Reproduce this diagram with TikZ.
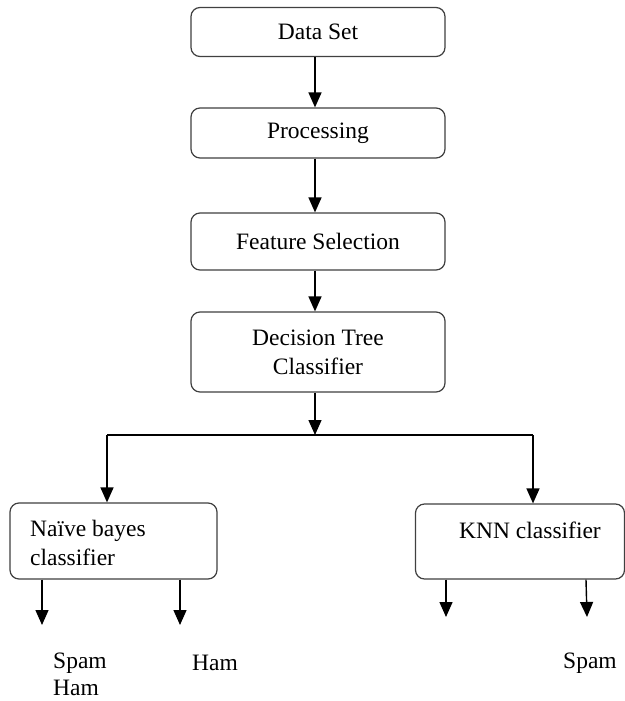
\documentclass[tikz,border=0pt]{standalone}
\usepackage{fontspec}
\setmainfont{Liberation Serif}
\usetikzlibrary{arrows.meta}
\begin{document}
\begin{tikzpicture}[x=1pt,y=-1pt,
  box/.style={draw=black!75,line width=1.2pt,rounded corners=9pt,inner sep=0pt,font=\fontsize{23.5}{29}\selectfont},
  txt/.style={inner sep=0pt,font=\fontsize{23.5}{29}\selectfont,align=left},
  arr/.style={line width=1.4pt,-{Triangle[width=13pt,length=15pt]}},
  ln/.style={line width=1.4pt}]
\useasboundingbox (0,0) rectangle (624,701);
\fill[white] (0,0) rectangle (624,701);
\node[box,minimum width=254pt,minimum height=49pt] (ds) at (318,32) {Data Set};
\node[box,minimum width=254pt,minimum height=50pt] (pr) at (318,133) {Processing};
\node[box,minimum width=254pt,minimum height=57pt] (fs) at (318,241.5) {Feature Selection};
\node[box,minimum width=254pt,minimum height=80pt,align=center] (dt) at (318,352) {Decision Tree\\Classifier};
\node[box,minimum width=207pt,minimum height=76pt] (nb) at (113.5,541) {};
\node[txt,anchor=west] (nbt) at (30,543) {Naïve bayes\\classifier};
\node[box,minimum width=209pt,minimum height=75pt] (knn) at (520,541.5) {};
\node[txt] (knnt) at (530,530) {KNN classifier};
\coordinate (split) at (315,435);
\coordinate (sl) at (107,435);
\coordinate (sr) at (533,435);
\draw[arr] ([xshift=-3pt]ds.south) -- ([xshift=-3pt]pr.north);
\draw[arr] ([xshift=-3pt]pr.south) -- ([xshift=-3pt]fs.north);
\draw[arr] ([xshift=-3pt]fs.south) -- ([xshift=-3pt]dt.north);
\draw[arr] ([xshift=-3pt]dt.south) -- (split);
\draw[ln] (sl) -- (sr);
\draw[arr] (sl) -- (sl |- nb.north);
\draw[arr] (sr) -- (sr |- knn.north);
\coordinate (a1) at (42,625);
\coordinate (a2) at (180,625);
\coordinate (a3) at (446,617);
\coordinate (a4) at (587,617);
\draw[arr] (a1 |- nb.south) -- (a1);
\draw[arr] ([xshift=180pt-113.5pt]nb.south) -- (a2);
\draw[arr] (a3 |- knn.south) -- (a3);
\draw[arr] ([xshift=66pt]knn.south) -- (a4);
\node[txt,anchor=west] (sp1) at (53,663) {Spam};
\node[txt,anchor=west] (hm1) at (53,688) {Ham};
\node[txt,anchor=west] (hm2) at (192,663) {Ham};
\node[txt,anchor=west] (sp2) at (563,663) {Spam};
\end{tikzpicture}
\end{document}
